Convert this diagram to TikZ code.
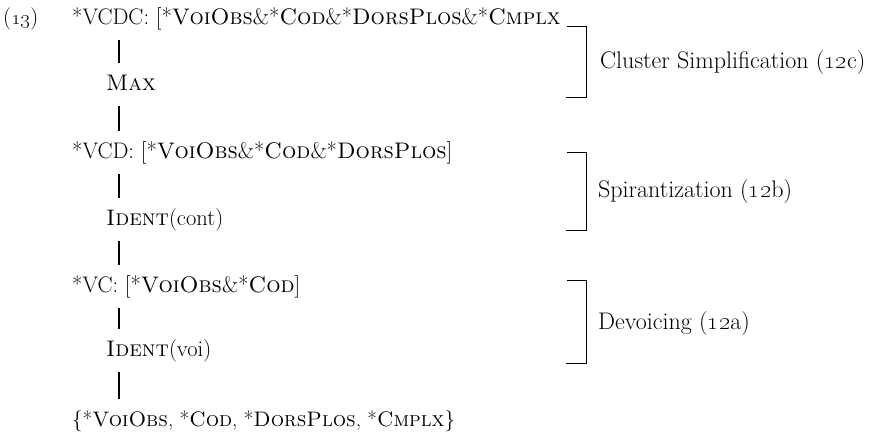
\documentclass[tikz,border=0pt]{standalone}
\begin{document}
\begin{tikzpicture}[x=1pt,y=1pt,
  txt/.style={anchor=base west, inner sep=0pt, font=\fontsize{22.5}{27}\selectfont},
  lab/.style={anchor=base west, inner sep=0pt, font=\fontsize{24}{29}\selectfont},
  bar/.style={line width=1.2pt},
  brk/.style={line width=1pt}]
\useasboundingbox (0,0) rectangle (873,-434);
\node[txt] (num) at (3,-24) {(\oldstylenums{13})};
\node[txt] (r1) at (72,-24) {*VCDC: [*\textsc{VoiObs}\&*\textsc{Cod}\&*\textsc{DorsPlos}\&*\textsc{Cmplx}};
\node[txt] (c1) at (106,-90) {\textsc{Max}};
\node[txt] (r2) at (72,-158) {*VCD: [*\textsc{VoiObs}\&*\textsc{Cod}\&*\textsc{DorsPlos}]};
\node[txt] (c2) at (106,-225) {\textsc{Ident}(cont)};
\node[txt] (r3) at (72,-292) {*VC: [*\textsc{VoiObs}\&*\textsc{Cod}]};
\node[txt] (c3) at (106,-356) {\textsc{Ident}(voi)};
\node[txt, font=\fontsize{21}{25}\selectfont] (r4) at (72,-426) {\{*\textsc{VoiObs}, *\textsc{Cod}, *\textsc{DorsPlos}, *\textsc{Cmplx}\}};
\coordinate (ln) at (119,0);
\draw[bar] ([yshift=-16pt]r1.base -| ln) -- ([yshift=27pt]c1.base -| ln);
\draw[bar] ([yshift=-16pt]c1.base -| ln) -- ([yshift=27pt]r2.base -| ln);
\draw[bar] ([yshift=-16pt]r2.base -| ln) -- ([yshift=27pt]c2.base -| ln);
\draw[bar] ([yshift=-16pt]c2.base -| ln) -- ([yshift=27pt]r3.base -| ln);
\draw[bar] ([yshift=-16pt]r3.base -| ln) -- ([yshift=27pt]c3.base -| ln);
\draw[bar] ([yshift=-16pt]c3.base -| ln) -- ([yshift=27pt]r4.base -| ln);
\node[lab] (l1) at (600,-68) {Cluster Simplification (\oldstylenums{12}c)};
\node[lab] (l2) at (598,-197) {Spirantization (\oldstylenums{12}b)};
\node[lab] (l3) at (598,-329) {Devoicing (\oldstylenums{12}a)};
\draw[brk] (567,-26) -- (586,-26) -- (586,-97) -- (566,-97);
\draw[brk] (567,-152) -- (586,-152) -- (586,-230) -- (566,-230);
\draw[brk] (567,-280) -- (586,-280) -- (586,-363) -- (566,-363);
\end{tikzpicture}
\end{document}
